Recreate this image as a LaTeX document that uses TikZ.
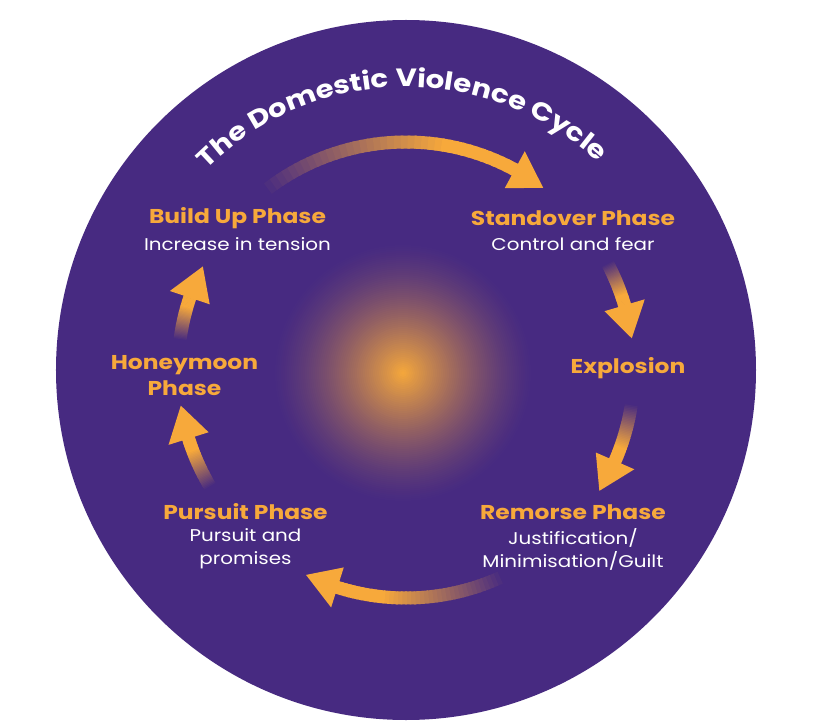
\documentclass[tikz,border=0pt]{standalone}
\usepackage{fontspec}
\setmainfont{Poppins}[FakeStretch=1.17]
\usepackage{tikz}
\usetikzlibrary{decorations.text}
\definecolor{cyclepurple}{HTML}{472A81}
\definecolor{cycleorange}{HTML}{F7A93B}

\newcommand{\cyclearrow}[3]{%
  \coordinate (#1 tail) at (#2:228);
  \coordinate (#1 tip) at (#3:228);
  \pgfmathsetmacro\headbase{#3+8.5}
  \foreach \k in {0,...,39}{
    \pgfmathsetmacro\angA{#2+(\headbase-#2-1)*\k/40}
    \pgfmathsetmacro\angB{#2+(\headbase-#2-1)*(\k+1.4)/40}
    \pgfmathsetmacro\mix{min(100,100*\k/28)}
    \draw[shaft, cycleorange!\mix!cyclepurple] (\angA:228) arc[start angle=\angA, end angle=\angB, radius=228];
  }
  \fill[cycleorange] (\headbase:207) -- (#1 tip) -- (\headbase:249) -- cycle;
}

\begin{document}
\begin{tikzpicture}[x=1pt, y=1pt,
  shaft/.style={line width=13pt},
  phasehead/.style={text=cycleorange, align=center, inner sep=0pt,
    font=\fontsize{20}{26}\selectfont\bfseries},
  phasetext/.style={text=white, align=center, inner sep=0pt,
    font=\fontsize{17}{23}\selectfont}
]
\fill[white] (-406,-350) rectangle (413,370);
\useasboundingbox (-406,-350) rectangle (413,370);
\fill[cyclepurple] (0,0) circle (350);
\foreach \r in {130,128,...,2}{
  \pgfmathsetmacro\glow{100*(1-\r/132)^1.4}
  \fill[cycleorange!\glow!cyclepurple] (-3,-3) circle (\r);
}

\path[decorate, decoration={text along path, text align=center,
  text={|\fontsize{25}{30}\selectfont\bfseries\color{white}|The Domestic Violence Cycle}}]
  (145:283) arc[start angle=145, end angle=37, radius=283];

\node[phasehead] (buildup) at (-168.5,152) {Build Up Phase};
\node[phasetext] (builduptext) at (-168.5,126) {Increase in tension};
\node[phasehead] (standover) at (167,152) {Standover Phase};
\node[phasetext] (standovertext) at (167,126) {Control and fear};
\node[phasehead] (explosion) at (222,2) {Explosion};
\node[phasehead] (remorse) at (167,-142) {Remorse Phase};
\node[phasetext] (remorsetext) at (167,-179) {Justification/\\Minimisation/Guilt};
\node[phasehead] (pursuit) at (-160.5,-142) {Pursuit Phase};
\node[phasetext] (pursuittext) at (-160.5,-179) {Pursuit and\\promises};
\node[phasehead] (honeymoon) at (-221.5,-6) {Honeymoon\\Phase};

\cyclearrow{a1}{129}{53}
\cyclearrow{a2}{28}{8}
\cyclearrow{a3}{-8.5}{-32}
\cyclearrow{a4}{-64.5}{-116}
\cyclearrow{a5}{-149}{-171}
\cyclearrow{a6}{172.5}{153}
\end{tikzpicture}
\end{document}
